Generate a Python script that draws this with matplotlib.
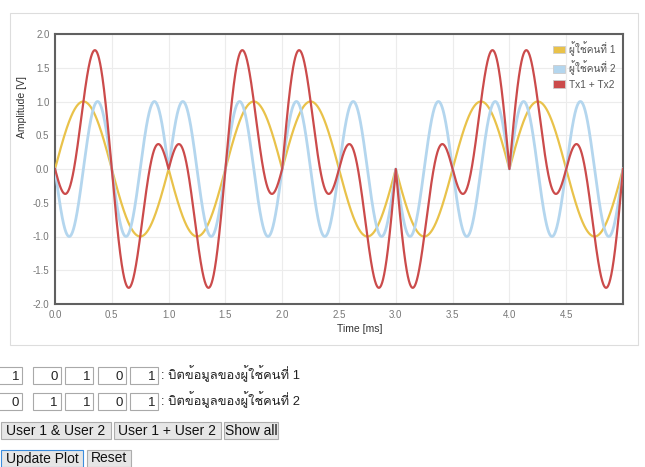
import numpy as np
import matplotlib
matplotlib.use("Agg")
import matplotlib.pyplot as plt
from matplotlib import font_manager
from matplotlib.ft2font import FT2Font
from matplotlib.patches import Rectangle, Patch

# data bits shown in the input boxes under the chart
bits_user1 = [1, 0, 1, 0, 1]
bits_user2 = [0, 1, 1, 0, 1]
f_user1 = 1.0   # kHz carrier, user 1
f_user2 = 2.0   # kHz carrier, user 2
bit_time = 1.0  # ms per bit
labels = ["ผู้ใช้คนที่ 1", "ผู้ใช้คนที่ 2", "Tx1 + Tx2"]
colors = ["#e9c24a", "#b4d6ee", "#cb4b4b"]
xticks = [0.0, 0.5, 1.0, 1.5, 2.0, 2.5, 3.0, 3.5, 4.0, 4.5]
yticks = [-2.0, -1.5, -1.0, -0.5, 0.0, 0.5, 1.0, 1.5, 2.0]
buttons_row1 = ["User 1 & User 2", "User 1 + User 2", "Show all"]
buttons_row2 = ["Update Plot", "Reset"]


def find_thai():
    for fe in font_manager.fontManager.ttflist:
        try:
            if 0x0E1C in FT2Font(fe.fname).get_charmap():
                return fe.name
        except Exception:
            pass
    return None


thai = find_thai()
fams = ["Liberation Sans"] + ([thai] if thai else []) + ["DejaVu Sans"]
plt.rcParams["font.family"] = fams

# BPSK: bit 1 -> +sin, bit 0 -> -sin
t = np.linspace(0, bit_time * len(bits_user1), 5001)
idx = np.minimum((t // bit_time).astype(int), len(bits_user1) - 1)
s1 = (2 * np.array(bits_user1)[idx] - 1) * np.sin(2 * np.pi * f_user1 * t)
s2 = (2 * np.array(bits_user2)[idx] - 1) * np.sin(2 * np.pi * f_user2 * t)
tx = s1 + s2

W, H = 645, 467
fig = plt.figure(figsize=(W / 100, H / 100), dpi=100)


def fx(x):
    return x / W


def fy(y):
    return 1 - y / H


# panel around the chart
fig.patches.append(Rectangle((fx(11), fy(346)), fx(628), 333 / H, transform=fig.transFigure,
                             facecolor="#ececec", edgecolor="none", zorder=-3))
fig.patches.append(Rectangle((fx(10), fy(345)), fx(628), 332 / H, transform=fig.transFigure,
                             facecolor="white", edgecolor="#dddddd", lw=0.8, zorder=-2))

ax = fig.add_axes([fx(55), fy(304), fx(623 - 55), (304 - 34) / H])
ax.patch.set_alpha(0)
ax.plot(t, s1, color=colors[0], lw=1.6, zorder=3)
ax.plot(t, s2, color=colors[1], lw=2.0, zorder=3)
ax.plot(t, tx, color=colors[2], lw=1.6, zorder=4)
ax.set_xlim(0, 5.0)
ax.set_ylim(-2, 2)
ax.set_xticks(xticks)
ax.set_xticklabels(["%.1f" % v for v in xticks])
ax.set_yticks(yticks)
ax.set_yticklabels(["%.1f" % v for v in yticks])
ax.tick_params(length=0, pad=4, labelsize=7, colors="#777777")
ax.grid(True, color="#ececec", lw=0.8)
ax.set_axisbelow(True)
for sp in ax.spines.values():
    sp.set_color("#606060")
    sp.set_linewidth(1.5)
ax.set_ylabel("Amplitude [V]", fontsize=7.5, color="#333333")
ax.yaxis.set_label_coords(-0.05, 0.73)
ax.set_xlabel("Time [ms]", fontsize=7.5, color="#333333")
ax.xaxis.set_label_coords(0.537, -0.075)

handles = [Patch(facecolor=c, edgecolor="#cccccc", lw=0.6) for c in colors]
leg = ax.legend(handles, labels, loc="upper right", fontsize=7.3, frameon=False,
                handlelength=1.2, handleheight=0.8, handletextpad=0.4,
                labelspacing=0.45, borderaxespad=0.3, labelcolor="#545454")

# input boxes with bits
box_x = [-6, 32.5, 65, 97.5, 130]
for row, (bits, y0) in enumerate([(bits_user1, 367), (bits_user2, 393)]):
    for b, x0 in zip(bits, box_x):
        fig.patches.append(Rectangle((fx(x0), fy(y0 + 16.5)), 28 / W, 16.5 / H,
                                     transform=fig.transFigure, facecolor="white",
                                     edgecolor="#a9a9a9", lw=0.8))
        fig.text(fx(x0 + 25), fy(y0 + 12.5), str(b), ha="right", va="baseline",
                 fontsize=9.5, color="#222222")
    fig.text(fx(161), fy(y0 + 12.5), ": บิตข้อมูลของผู้ใช้คนที่ %d" % (row + 1),
             ha="left", va="baseline", fontsize=9.3, color="#222222")

# buttons
btn_pos = [(1, 110.5), (114, 221), (224, 278)]
for lab, (x0, x1) in zip(buttons_row1, btn_pos):
    fig.patches.append(Rectangle((fx(x0), fy(439)), (x1 - x0) / W, 17 / H,
                                 transform=fig.transFigure, facecolor="#e6e6e6",
                                 edgecolor="#adadad", lw=0.8))
    fig.text(fx((x0 + x1) / 2), fy(435), lab, ha="center", va="baseline",
             fontsize=10, color="#111111")
btn_pos2 = [(1, 83), (87, 131)]
for lab, (x0, x1), ec in zip(buttons_row2, btn_pos2, ["#3c8dde", "#adadad"]):
    fig.patches.append(Rectangle((fx(x0), fy(466.5)), (x1 - x0) / W, 17 / H,
                                 transform=fig.transFigure, facecolor="#e6e6e6",
                                 edgecolor=ec, lw=0.8))
    fig.text(fx((x0 + x1) / 2), fy(462.5), lab, ha="center", va="baseline",
             fontsize=10, color="#111111")

fig.savefig("out.png", dpi=100, facecolor="white")
